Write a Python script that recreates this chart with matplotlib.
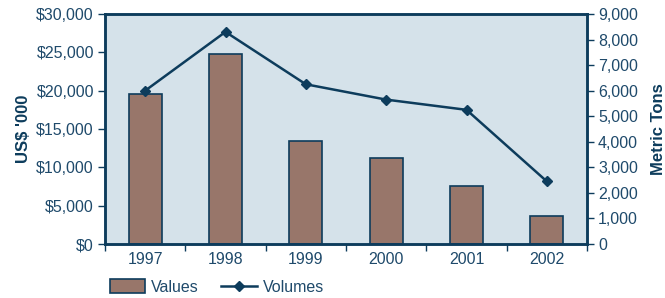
import matplotlib
matplotlib.use("Agg")
import matplotlib.pyplot as plt
from matplotlib.ticker import FuncFormatter, MultipleLocator
import numpy as np

plt.rcParams['font.family'] = ['Liberation Sans', 'DejaVu Sans']

years = ['1997', '1998', '1999', '2000', '2001', '2002']
values = [19550, 24800, 13450, 11200, 7550, 3650]
volumes = [6000, 8300, 6250, 5650, 5250, 2450]

navy = '#0d3c5c'
text_c = '#1f4a6b'
bar_c = '#98766a'
bg = '#d5e2ea'

fig = plt.figure(figsize=(6.65, 2.98), dpi=100)
ax = fig.add_axes([105/665, 54/298, 482/665, 230/298])
ax.set_facecolor(bg)
x = np.arange(len(years))
ax.bar(x, values, width=0.41, color=bar_c, edgecolor=navy, linewidth=1.2, label='Values', zorder=2)
ax.set_xlim(-0.5, len(years) - 0.5)
ax.set_ylim(0, 30000)
ax.yaxis.set_major_locator(MultipleLocator(5000))
ax.yaxis.set_major_formatter(FuncFormatter(lambda v, p: '${:,.0f}'.format(v)))
ax.set_xticks(x)
ax.set_xticklabels(years)
ax.set_xticks(np.arange(-0.5, len(years)), minor=True)
ax.tick_params(axis='x', which='major', length=0, pad=6, labelsize=11.5, colors=text_c)
ax.tick_params(axis='x', which='minor', length=5, width=1, color=navy)
ax.tick_params(axis='y', length=5, width=1, color=navy, labelsize=11.5, labelcolor=text_c, pad=3)
ax.set_ylabel("US$ '000", fontsize=12, fontweight='bold', color=navy, labelpad=4)

ax2 = ax.twinx()
ax2.plot(x, volumes, color=navy, linewidth=1.8, marker='D', markersize=5, label='Volumes', zorder=3)
ax2.set_ylim(0, 9000)
ax2.yaxis.set_major_locator(MultipleLocator(1000))
ax2.yaxis.set_major_formatter(FuncFormatter(lambda v, p: '{:,.0f}'.format(v)))
ax2.tick_params(axis='y', length=5, width=1, color=navy, labelsize=11.5, labelcolor=text_c, pad=3)
ax2.set_ylabel("Metric Tons", fontsize=12, fontweight='bold', color=navy, labelpad=9)

for a in (ax, ax2):
    for s in a.spines.values():
        s.set_color(navy)
        s.set_linewidth(1.8)

h1, l1 = ax.get_legend_handles_labels()
h2, l2 = ax2.get_legend_handles_labels()
fig.legend(h1 + h2, l1 + l2, loc='center', bbox_to_anchor=(217/665, 1 - 287/298),
           ncol=2, frameon=False, fontsize=11.5, labelcolor=text_c,
           handlelength=2.2, handleheight=0.9, columnspacing=1.4, handletextpad=0.4)

fig.savefig('out.png', dpi=100)
